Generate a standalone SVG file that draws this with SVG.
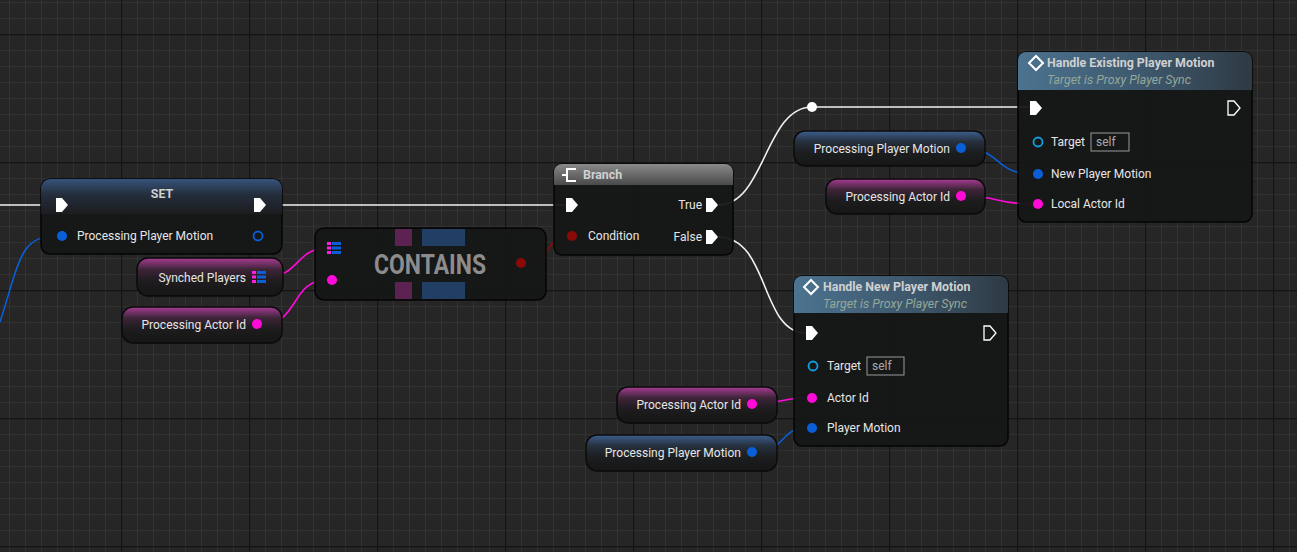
<svg xmlns="http://www.w3.org/2000/svg" width="1297" height="552" viewBox="0 0 1297 552">
<defs>
<pattern id="minor" x="9" y="2" width="16" height="16" patternUnits="userSpaceOnUse"><path d="M0,0V16M0,0H16" stroke="#353535" stroke-width="1.6"/></pattern>
<pattern id="major" x="121" y="34" width="128" height="128" patternUnits="userSpaceOnUse"><path d="M0,0V128M0,0H128" stroke="#141414" stroke-width="2.4"/></pattern>
<linearGradient id="gPink" x1="0" y1="0" x2="0" y2="1"><stop offset="0" stop-color="#a83c94"/><stop offset="0.3" stop-color="#3e2438"/><stop offset="0.6" stop-color="#1e1c1e"/><stop offset="1" stop-color="#161616"/></linearGradient>
<linearGradient id="gBlue" x1="0" y1="0" x2="0" y2="1"><stop offset="0" stop-color="#3c5f8e"/><stop offset="0.3" stop-color="#26303e"/><stop offset="0.6" stop-color="#1c1e20"/><stop offset="1" stop-color="#161616"/></linearGradient>
<linearGradient id="gHdrBlue" x1="0" y1="0" x2="1" y2="0"><stop offset="0" stop-color="#4c7390"/><stop offset="0.6" stop-color="#3c5468"/><stop offset="1" stop-color="#2e3a44"/></linearGradient>
<linearGradient id="gHdrGray" x1="0" y1="0" x2="0" y2="1"><stop offset="0" stop-color="#8a8a8a"/><stop offset="1" stop-color="#4a4a4a"/></linearGradient>
<linearGradient id="gSet" x1="0" y1="0" x2="0" y2="1"><stop offset="0" stop-color="#3a5a85"/><stop offset="0.45" stop-color="#263040"/><stop offset="1" stop-color="#1c1e20"/></linearGradient>
<path id="exec" d="M-6,-7h6l6,7l-6,7h-6z"/>
<g id="arr"><rect x="-7" y="-6" width="4" height="3" fill="#ff1ee0"/><rect x="-2" y="-6" width="9" height="3" fill="#0a5fd8"/><rect x="-7" y="-1.5" width="4" height="3" fill="#ff1ee0"/><rect x="-2" y="-1.5" width="9" height="3" fill="#0a5fd8"/><rect x="-7" y="3" width="4" height="3" fill="#ff1ee0"/><rect x="-2" y="3" width="9" height="3" fill="#0a5fd8"/></g>
</defs>
<style>
text{font-family:Roboto,"Liberation Sans",sans-serif;font-size:12px;fill:#e6e6e6}
.t{font-weight:bold;fill:#d0d0d0;font-size:12.4px}
.sub{font-style:italic;fill:#93a89a;font-size:12.4px}
.r{text-anchor:end}
.body{fill:#151616;fill-opacity:0.95;stroke:#050505;stroke-width:1.5}
.var{stroke:#0a0a0a;stroke-width:1.5}
.ex{fill:#fff}
.exo{fill:none;stroke:#fff;stroke-width:1.3}
.w{fill:none;stroke-width:1.6}
.pink{fill:#ff0ad8}
.blue{fill:#0a5fd8}
</style>
<rect width="1297" height="552" fill="#262626"/>
<rect width="1297" height="552" fill="url(#minor)"/>
<rect width="1297" height="552" fill="url(#major)"/>

<g id="connectors">
<path class="w" d="M0,205H50M270,205H566" stroke="#f0f0f0" stroke-width="2.4"/>
<path class="w" d="M0,322C20,260 20,236 56,236" stroke="#0a5fd8"/>
<path class="w" d="M266,277C300,277 295,248 328,248" stroke="#ff0ad8"/>
<path class="w" d="M262,324C300,324 290,280 327,280" stroke="#ff0ad8"/>
<path class="w" d="M527,263C548,263 548,236 567,236" stroke="#8a0a0a"/>
<path class="w" d="M718,205C765,205 765,107 812,107H1030" stroke="#f0f0f0" stroke-width="2.4"/>
<path class="w" d="M718,237C770,237 760,333 806,333" stroke="#f0f0f0" stroke-width="2.4"/>
<path class="w" d="M964,148C1000,148 995,174 1032,174" stroke="#0a5fd8"/>
<path class="w" d="M964,196C1000,196 995,204 1032,204" stroke="#ff0ad8"/>
<path class="w" d="M756,404C780,404 780,398 806,398" stroke="#ff0ad8"/>
<path class="w" d="M756,452C785,452 780,428 806,428" stroke="#0a5fd8"/>
<circle cx="812" cy="107" r="5" fill="#fff"/>
</g>

<g id="set">
<rect x="41" y="179" width="241" height="75" rx="9" class="body"/>
<path d="M50,179H273a9,9 0 0 1 9,9V214H41V188a9,9 0 0 1 9,-9z" fill="url(#gSet)" opacity="0.9"/>
<text x="162" y="198" class="t" text-anchor="middle">SET</text>
<use href="#exec" x="62" y="205" class="ex"/>
<use href="#exec" x="260" y="205" class="ex"/>
<circle cx="62" cy="236" r="5" class="blue"/>
<text x="77" y="240">Processing Player Motion</text>
<circle cx="258" cy="236" r="4.5" fill="none" stroke="#0a5fd8" stroke-width="1.8"/>
</g>

<g id="synched">
<rect x="137" y="258" width="146" height="38" rx="11" class="var" fill="url(#gPink)"/>
<text x="246" y="282" class="r">Synched Players</text>
<use href="#arr" x="259" y="277"/>
</g>
<g id="actorA">
<rect x="122" y="307" width="160" height="36" rx="11" class="var" fill="url(#gPink)"/>
<text x="246" y="329" class="r">Processing Actor Id</text>
<circle cx="257" cy="324" r="5" class="pink"/>
</g>

<g id="contains">
<rect x="315" y="228" width="231" height="72" rx="9" class="body" fill="#222"/>
<rect x="395" y="229" width="17" height="17" fill="#8a2a7a" opacity="0.6"/>
<rect x="422" y="229" width="43" height="17" fill="#2a5a9a" opacity="0.6"/>
<rect x="395" y="282" width="17" height="17" fill="#8a2a7a" opacity="0.6"/>
<rect x="422" y="282" width="43" height="17" fill="#2a5a9a" opacity="0.6"/>
<text x="430" y="274" text-anchor="middle" textLength="112" lengthAdjust="spacingAndGlyphs" style="font-size:28px;font-weight:bold;fill:#8c8c8c">CONTAINS</text>
<use href="#arr" x="334" y="248"/>
<circle cx="332" cy="280" r="5" class="pink"/>
<circle cx="521" cy="263" r="5" fill="#8a0a0a"/>
</g>

<g id="branch">
<rect x="554" y="164" width="179" height="91" rx="8" class="body"/>
<path d="M562,164H725a8,8 0 0 1 8,8V185H554V172a8,8 0 0 1 8,-8z" fill="url(#gHdrGray)"/>
<path d="M571,169h-4v12h4M567,175h-5M571,169h5M571,181h5" fill="none" stroke="#fff" stroke-width="2"/>
<text x="583" y="179" class="t">Branch</text>
<use href="#exec" x="572" y="205" class="ex"/>
<circle cx="572" cy="236" r="5" fill="#8a0a0a"/>
<text x="588" y="240">Condition</text>
<text x="702" y="209" class="r">True</text>
<use href="#exec" x="712" y="205" class="ex"/>
<text x="702" y="241" class="r">False</text>
<use href="#exec" x="712" y="237" class="ex"/>
</g>

<g id="existing">
<rect x="1018" y="52" width="234" height="170" rx="8" class="body"/>
<path d="M1026,52H1244a8,8 0 0 1 8,8V90H1018V60a8,8 0 0 1 8,-8z" fill="url(#gHdrBlue)"/>
<path d="M1036,56l7,7l-7,7l-7,-7z" fill="none" stroke="#fff" stroke-width="2"/>
<text x="1047" y="67" class="t">Handle Existing Player Motion</text>
<text x="1047" y="84" class="sub">Target is Proxy Player Sync</text>
<use href="#exec" x="1036" y="108" class="ex"/>
<use href="#exec" x="1234" y="108" class="exo"/>
<circle cx="1038" cy="142" r="4.5" fill="none" stroke="#0ea0e0" stroke-width="1.8"/>
<text x="1051" y="146">Target</text>
<rect x="1091" y="133" width="38" height="18" fill="none" stroke="#9a9a9a"/>
<text x="1096" y="146" style="fill:#aaa">self</text>
<circle cx="1038" cy="174" r="5" class="blue"/>
<text x="1051" y="178">New Player Motion</text>
<circle cx="1038" cy="204" r="5" class="pink"/>
<text x="1051" y="208">Local Actor Id</text>
</g>
<g id="motionB">
<rect x="794" y="131" width="191" height="35" rx="11" class="var" fill="url(#gBlue)"/>
<text x="950" y="153" class="r">Processing Player Motion</text>
<circle cx="961" cy="148" r="5" class="blue"/>
</g>
<g id="actorB">
<rect x="826" y="179" width="159" height="35" rx="11" class="var" fill="url(#gPink)"/>
<text x="950" y="201" class="r">Processing Actor Id</text>
<circle cx="961" cy="196" r="5" class="pink"/>
</g>

<g id="newmotion">
<rect x="794" y="276" width="214" height="170" rx="8" class="body"/>
<path d="M802,276H1000a8,8 0 0 1 8,8V313H794V284a8,8 0 0 1 8,-8z" fill="url(#gHdrBlue)"/>
<path d="M811,280l7,7l-7,7l-7,-7z" fill="none" stroke="#fff" stroke-width="2"/>
<text x="823" y="291" class="t">Handle New Player Motion</text>
<text x="823" y="308" class="sub">Target is Proxy Player Sync</text>
<use href="#exec" x="812" y="333" class="ex"/>
<use href="#exec" x="990" y="333" class="exo"/>
<circle cx="813" cy="366" r="4.5" fill="none" stroke="#0ea0e0" stroke-width="1.8"/>
<text x="827" y="370">Target</text>
<rect x="867" y="357" width="37" height="18" fill="none" stroke="#9a9a9a"/>
<text x="872" y="370" style="fill:#aaa">self</text>
<circle cx="812" cy="398" r="5" class="pink"/>
<text x="827" y="402">Actor Id</text>
<circle cx="812" cy="428" r="5" class="blue"/>
<text x="827" y="432">Player Motion</text>
</g>
<g id="actorC">
<rect x="617" y="387" width="160" height="36" rx="11" class="var" fill="url(#gPink)"/>
<text x="741" y="409" class="r">Processing Actor Id</text>
<circle cx="752" cy="404" r="5" class="pink"/>
</g>
<g id="motionC">
<rect x="586" y="435" width="191" height="36" rx="11" class="var" fill="url(#gBlue)"/>
<text x="741" y="457" class="r">Processing Player Motion</text>
<circle cx="752" cy="452" r="5" class="blue"/>
</g>
</svg>
